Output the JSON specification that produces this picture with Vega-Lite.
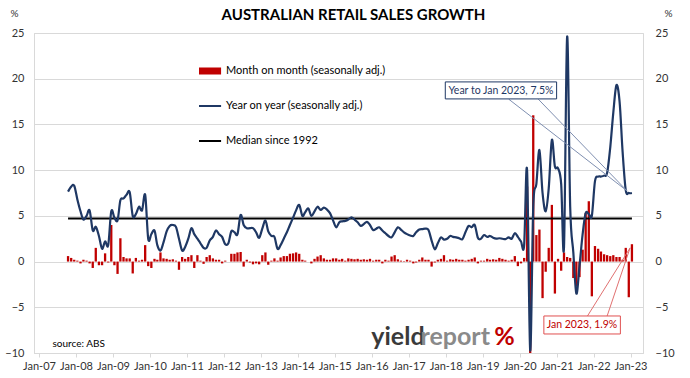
{
"$schema":"https://vega.github.io/schema/vega-lite/v6.json",
"width":609,"height":320,
"autosize":{"type":"none"},
"padding":{"left":34,"top":33,"right":47,"bottom":25},
"background":"white",
"config":{"view":{"stroke":"#d9d9d9","strokeWidth":1},"font":"Lato"},
"title":{"text":"AUSTRALIAN RETAIL SALES GROWTH","frame":"group","anchor":"middle","dx":15,"offset":-15,"fontSize":15,"font":"Lato","fontWeight":"bold","color":"#000000"},
"datasets":{
"sales":[
{"d":"2007-10-15","mom":0.6,"yoy":7.65},{"d":"2007-11-15","mom":0.4,"yoy":8.2},{"d":"2007-12-15","mom":0.2,"yoy":8.3},
{"d":"2008-01-15","mom":0.1,"yoy":6.8},{"d":"2008-02-15","mom":-0.2,"yoy":5.5},{"d":"2008-03-15","mom":0.2,"yoy":4.6},{"d":"2008-04-15","mom":0.1,"yoy":5.0},{"d":"2008-05-15","mom":-0.2,"yoy":5.6},{"d":"2008-06-15","mom":-0.7,"yoy":3.4},{"d":"2008-07-15","mom":1.5,"yoy":3.8},{"d":"2008-08-15","mom":-0.4,"yoy":2.8},{"d":"2008-09-15","mom":-0.4,"yoy":1.4},{"d":"2008-10-15","mom":0.9,"yoy":2.2},{"d":"2008-11-15","mom":-0.1,"yoy":1.8},{"d":"2008-12-15","mom":4.0,"yoy":5.5},
{"d":"2009-01-15","mom":-0.4,"yoy":4.8},{"d":"2009-02-15","mom":-1.35,"yoy":4.5},{"d":"2009-03-15","mom":2.55,"yoy":6.7},{"d":"2009-04-15","mom":0.5,"yoy":6.9},{"d":"2009-05-15","mom":0.35,"yoy":7.3},{"d":"2009-06-15","mom":0.35,"yoy":7.6},{"d":"2009-07-15","mom":-1.3,"yoy":5.0},{"d":"2009-08-15","mom":0.4,"yoy":5.2},{"d":"2009-09-15","mom":0.1,"yoy":6.0},{"d":"2009-10-15","mom":0.2,"yoy":5.6},{"d":"2009-11-15","mom":1.8,"yoy":7.3},{"d":"2009-12-15","mom":-0.5,"yoy":2.5},
{"d":"2010-01-15","mom":-0.7,"yoy":3.0},{"d":"2010-02-15","mom":0.3,"yoy":3.4},{"d":"2010-03-15","mom":0.2,"yoy":1.8},{"d":"2010-04-15","mom":1.0,"yoy":1.2},{"d":"2010-05-15","mom":0.35,"yoy":2.1},{"d":"2010-06-15","mom":0.3,"yoy":3.3},{"d":"2010-07-15","mom":0.2,"yoy":3.9},{"d":"2010-08-15","mom":0.25,"yoy":4.0},{"d":"2010-09-15","mom":0.1,"yoy":3.8},{"d":"2010-10-15","mom":-0.9,"yoy":2.5},{"d":"2010-11-15","mom":0.5,"yoy":1.2},{"d":"2010-12-15","mom":0.3,"yoy":1.6},
{"d":"2011-01-15","mom":0.5,"yoy":2.5},{"d":"2011-02-15","mom":0.7,"yoy":3.65},{"d":"2011-03-15","mom":-0.7,"yoy":3.0},{"d":"2011-04-15","mom":0.7,"yoy":2.5},{"d":"2011-05-15","mom":0.1,"yoy":2.0},{"d":"2011-06-15","mom":-0.25,"yoy":1.5},{"d":"2011-07-15","mom":0.5,"yoy":1.5},{"d":"2011-08-15","mom":0.7,"yoy":2.3},{"d":"2011-09-15","mom":0.35,"yoy":2.7},{"d":"2011-10-15","mom":0.2,"yoy":3.4},{"d":"2011-11-15","mom":0.2,"yoy":3.0},{"d":"2011-12-15","mom":-0.2,"yoy":2.7},
{"d":"2012-01-15","mom":0.1,"yoy":1.9},{"d":"2012-02-15","mom":0.0,"yoy":2.0},{"d":"2012-03-15","mom":0.85,"yoy":3.3},{"d":"2012-04-15","mom":0.85,"yoy":3.2},{"d":"2012-05-15","mom":1.0,"yoy":3.0},{"d":"2012-06-15","mom":1.05,"yoy":5.1},{"d":"2012-07-15","mom":-0.55,"yoy":4.0},{"d":"2012-08-15","mom":0.2,"yoy":3.65},{"d":"2012-09-15","mom":-0.1,"yoy":3.65},{"d":"2012-10-15","mom":-0.3,"yoy":3.65},{"d":"2012-11-15","mom":-0.2,"yoy":3.2},{"d":"2012-12-15","mom":-0.3,"yoy":2.6},
{"d":"2013-01-15","mom":0.7,"yoy":3.6},{"d":"2013-02-15","mom":1.0,"yoy":4.5},{"d":"2013-03-15","mom":-0.35,"yoy":3.3},{"d":"2013-04-15","mom":0.1,"yoy":2.8},{"d":"2013-05-15","mom":0.35,"yoy":2.7},{"d":"2013-06-15","mom":0.1,"yoy":1.4},{"d":"2013-07-15","mom":0.45,"yoy":1.8},{"d":"2013-08-15","mom":0.6,"yoy":2.5},{"d":"2013-09-15","mom":0.6,"yoy":3.2},{"d":"2013-10-15","mom":0.85,"yoy":4.0},{"d":"2013-11-15","mom":0.9,"yoy":4.8},{"d":"2013-12-15","mom":1.0,"yoy":5.6},
{"d":"2014-01-15","mom":0.85,"yoy":6.2},{"d":"2014-02-15","mom":0.2,"yoy":5.0},{"d":"2014-03-15","mom":0.1,"yoy":5.4},{"d":"2014-04-15","mom":0.0,"yoy":5.8},{"d":"2014-05-15","mom":-0.2,"yoy":5.0},{"d":"2014-06-15","mom":0.3,"yoy":5.5},{"d":"2014-07-15","mom":0.55,"yoy":6.0},{"d":"2014-08-15","mom":0.7,"yoy":5.65},{"d":"2014-09-15","mom":0.35,"yoy":5.9},{"d":"2014-10-15","mom":0.2,"yoy":5.7},{"d":"2014-11-15","mom":0.2,"yoy":5.3},{"d":"2014-12-15","mom":0.35,"yoy":4.5},
{"d":"2015-01-15","mom":0.35,"yoy":3.75},{"d":"2015-02-15","mom":0.2,"yoy":4.3},{"d":"2015-03-15","mom":0.3,"yoy":4.4},{"d":"2015-04-15","mom":0.1,"yoy":4.45},{"d":"2015-05-15","mom":0.35,"yoy":4.6},{"d":"2015-06-15","mom":0.3,"yoy":4.85},{"d":"2015-07-15","mom":0.25,"yoy":4.6},{"d":"2015-08-15","mom":0.3,"yoy":4.3},{"d":"2015-09-15","mom":0.2,"yoy":3.9},{"d":"2015-10-15","mom":0.25,"yoy":4.1},{"d":"2015-11-15","mom":0.2,"yoy":4.35},{"d":"2015-12-15","mom":0.3,"yoy":4.0},
{"d":"2016-01-15","mom":0.1,"yoy":3.45},{"d":"2016-02-15","mom":0.2,"yoy":3.6},{"d":"2016-03-15","mom":0.2,"yoy":3.75},{"d":"2016-04-15","mom":-0.2,"yoy":3.4},{"d":"2016-05-15","mom":0.2,"yoy":3.1},{"d":"2016-06-15","mom":0.1,"yoy":2.8},{"d":"2016-07-15","mom":0.55,"yoy":2.65},{"d":"2016-08-15","mom":0.7,"yoy":3.2},{"d":"2016-09-15","mom":0.25,"yoy":3.75},{"d":"2016-10-15","mom":0.1,"yoy":3.5},{"d":"2016-11-15","mom":0.05,"yoy":3.2},{"d":"2016-12-15","mom":0.2,"yoy":3.0},
{"d":"2017-01-15","mom":0.1,"yoy":2.85},{"d":"2017-02-15","mom":-0.2,"yoy":2.8},{"d":"2017-03-15","mom":-0.1,"yoy":3.2},{"d":"2017-04-15","mom":0.2,"yoy":3.5},{"d":"2017-05-15","mom":0.45,"yoy":3.55},{"d":"2017-06-15","mom":0.2,"yoy":3.6},{"d":"2017-07-15","mom":0.2,"yoy":3.45},{"d":"2017-08-15","mom":-0.55,"yoy":2.3},{"d":"2017-09-15","mom":-0.1,"yoy":1.35},{"d":"2017-10-15","mom":0.2,"yoy":2.0},{"d":"2017-11-15","mom":0.3,"yoy":2.65},{"d":"2017-12-15","mom":0.7,"yoy":2.4},
{"d":"2018-01-15","mom":0.1,"yoy":2.5},{"d":"2018-02-15","mom":0.25,"yoy":2.8},{"d":"2018-03-15","mom":0.2,"yoy":2.7},{"d":"2018-04-15","mom":0.3,"yoy":2.65},{"d":"2018-05-15","mom":0.2,"yoy":2.55},{"d":"2018-06-15","mom":0.2,"yoy":2.45},{"d":"2018-07-15","mom":0.1,"yoy":3.2},{"d":"2018-08-15","mom":0.2,"yoy":3.9},{"d":"2018-09-15","mom":0.3,"yoy":3.75},{"d":"2018-10-15","mom":0.45,"yoy":4.0},{"d":"2018-11-15","mom":-0.2,"yoy":2.6},{"d":"2018-12-15","mom":0.1,"yoy":2.5},
{"d":"2019-01-15","mom":0.1,"yoy":2.9},{"d":"2019-02-15","mom":0.3,"yoy":2.7},{"d":"2019-03-15","mom":0.2,"yoy":2.8},{"d":"2019-04-15","mom":0.25,"yoy":2.6},{"d":"2019-05-15","mom":0.2,"yoy":2.5},{"d":"2019-06-15","mom":0.4,"yoy":2.55},{"d":"2019-07-15","mom":0.3,"yoy":2.5},{"d":"2019-08-15","mom":0.2,"yoy":2.45},{"d":"2019-09-15","mom":0.1,"yoy":2.65},{"d":"2019-10-15","mom":0.2,"yoy":2.5},{"d":"2019-11-15","mom":0.6,"yoy":3.1},{"d":"2019-12-15","mom":-0.5,"yoy":2.7},
{"d":"2020-01-15","mom":-0.2,"yoy":2.2},{"d":"2020-02-15","mom":0.4,"yoy":1.8},{"d":"2020-03-15","mom":8.2,"yoy":10.0},{"d":"2020-04-15","mom":-10.0,"yoy":-9.7},{"d":"2020-05-15","mom":16.0,"yoy":6.0},{"d":"2020-06-15","mom":2.9,"yoy":8.5},{"d":"2020-07-15","mom":3.5,"yoy":12.2},{"d":"2020-08-15","mom":-4.0,"yoy":7.5},{"d":"2020-09-15","mom":-1.1,"yoy":5.5},{"d":"2020-10-15","mom":1.5,"yoy":8.0},{"d":"2020-11-15","mom":6.2,"yoy":13.3},{"d":"2020-12-15","mom":-3.5,"yoy":10.4},
{"d":"2021-01-15","mom":0.3,"yoy":10.2},{"d":"2021-02-15","mom":-1.0,"yoy":8.5},{"d":"2021-03-15","mom":1.0,"yoy":1.6},{"d":"2021-04-15","mom":0.5,"yoy":24.6},{"d":"2021-05-15","mom":0.4,"yoy":6.0},{"d":"2021-06-15","mom":-1.8,"yoy":1.0},{"d":"2021-07-15","mom":-2.7,"yoy":-3.5},{"d":"2021-08-15","mom":-1.7,"yoy":-0.5},{"d":"2021-09-15","mom":1.3,"yoy":3.0},{"d":"2021-10-15","mom":5.3,"yoy":5.3},{"d":"2021-11-15","mom":6.6,"yoy":5.2},{"d":"2021-12-15","mom":-3.8,"yoy":5.0},
{"d":"2022-01-15","mom":1.7,"yoy":8.8},{"d":"2022-02-15","mom":1.4,"yoy":9.3},{"d":"2022-03-15","mom":1.1,"yoy":9.3},{"d":"2022-04-15","mom":0.8,"yoy":9.4},{"d":"2022-05-15","mom":0.7,"yoy":9.7},{"d":"2022-06-15","mom":0.6,"yoy":12.5},{"d":"2022-07-15","mom":0.7,"yoy":16.3},{"d":"2022-08-15","mom":0.5,"yoy":19.3},{"d":"2022-09-15","mom":0.5,"yoy":17.5},{"d":"2022-10-15","mom":0.2,"yoy":12.0},{"d":"2022-11-15","mom":1.5,"yoy":7.8},{"d":"2022-12-15","mom":-3.9,"yoy":7.5},
{"d":"2023-01-15","mom":1.9,"yoy":7.5}
],
"median":[{"d":"2007-10-15","d2":"2023-01-15","v":4.7}],
"yoyBox":[{"d":"2017-12-28","d2":"2021-01-01","v":19.65,"v2":17.79}],
"yoyText":[{"d":"2019-07-01","v":18.7,"label":"Year to Jan 2023, 7.5%"}],
"yoyLeaders":[{"d":"2019-09-16","v":17.76,"d2":"2022-11-29","v2":7.72},{"d":"2020-07-04","v":17.76,"d2":"2022-11-29","v2":7.72}],
"momBox":[{"d":"2020-08-28","d2":"2022-09-23","v":-5.95,"v2":-7.92}],
"momText":[{"d":"2021-09-09","v":-6.94,"label":"Jan 2023, 1.9%"}],
"momLeaders":[{"d":"2021-11-02","v":-5.95,"d2":"2022-12-28","v2":1.5},{"d":"2022-05-15","v":-5.95,"d2":"2022-12-28","v2":1.5}],
"source":[{"d":"2007-05-14","v":-9.0,"label":"source: ABS"}],
"logoYield":[{"d":"2015-12-28","v":-9.12,"label":"yield"}],
"logoReport":[{"d":"2017-04-27","v":-9.12,"label":"report"}],
"logoPct":[{"d":"2019-04-25","v":-9.12,"label":"%"}]
},
"encoding":{
"x":{"field":"d","type":"temporal","title":null,
 "scale":{"domain":[{"year":2007,"month":1,"date":1},{"year":2023,"month":3,"date":16}]},
 "axis":{"format":"%b-%y","tickCount":{"interval":"year","step":1},"labelFlush":false,"labelOverlap":false,"labelFont":"Lato","labelFontSize":11,"labelColor":"#333333","tickColor":"#d9d9d9","tickSize":4,"domainColor":"#d9d9d9","grid":false,"labelPadding":3}},
"y":{"field":"v","type":"quantitative","scale":{"domain":[-10,25]},"axis":null}
},
"resolve":{"scale":{"y":"independent"}},
"layer":[
{"data":{"name":"sales"},
 "mark":{"type":"bar","size":2.3},
 "encoding":{
  "y":{"field":"mom","type":"quantitative","scale":{"domain":[-10,25]},"axis":null},
  "color":{"datum":"Month on month (seasonally adj.)",
   "scale":{"domain":["Month on month (seasonally adj.)","Year on year (seasonally adj.)","Median since 1992"],"range":["#C00000","#1F3864","#000000"]},
   "legend":{"orient":"none","legendX":165,"legendY":26,"title":null,"padding":0,"symbolType":"stroke","symbolSize":1100,"symbolStrokeWidth":2,"labelFont":"Lato","labelFontSize":11,"labelColor":"#000000","labelOffset":16,"labelLimit":400,"clipHeight":24,"rowPadding":11,
    "encode":{"symbols":{"update":{"stroke":{"scale":"color","field":"value"},"strokeWidth":{"signal":"datum.value === 'Month on month (seasonally adj.)' ? 7 : 2"}}}}}}
 }},
{"data":{"name":"median"},
 "mark":{"type":"rule","strokeWidth":2},
 "encoding":{
  "x2":{"field":"d2"},
  "y":{"field":"v","type":"quantitative","scale":{"domain":[-10,25]},
   "axis":{"orient":"right","values":[-10,-5,0,5,10,15,20,25],"grid":false,"domain":false,"ticks":false,"labelPadding":12,"labelFont":"Lato","labelFontSize":11,"labelColor":"#333333","title":"%","titleAngle":0,"titleX":25,"titleY":-20,"titleAlign":"center","titleBaseline":"middle","titleFont":"Lato","titleFontSize":10,"titleFontWeight":"normal","titleColor":"#333333"}},
  "color":{"datum":"Median since 1992"}
 }},
{"data":{"name":"sales"},
 "mark":{"type":"line","interpolate":"cardinal","strokeWidth":2.2},
 "encoding":{
  "y":{"field":"yoy","type":"quantitative","scale":{"domain":[-10,25]},
   "axis":{"orient":"left","values":[-10,-5,0,5,10,15,20,25],"grid":true,"gridColor":"#d9d9d9","domain":true,"domainColor":"#d9d9d9","ticks":false,"labelPadding":10,"labelFont":"Lato","labelFontSize":11,"labelColor":"#333333","title":"%","titleAngle":0,"titleX":-20,"titleY":-20,"titleAlign":"center","titleBaseline":"middle","titleFont":"Lato","titleFontSize":10,"titleFontWeight":"normal","titleColor":"#333333"}},
  "color":{"datum":"Year on year (seasonally adj.)"}
 }},
{"data":{"name":"yoyLeaders"},"mark":{"type":"rule","color":"#7F8FB0","strokeWidth":1},"encoding":{"x2":{"field":"d2"},"y2":{"field":"v2"}}},
{"data":{"name":"momLeaders"},"mark":{"type":"rule","color":"#E07070","strokeWidth":1},"encoding":{"x2":{"field":"d2"},"y2":{"field":"v2"}}},
{"data":{"name":"yoyBox"},"mark":{"type":"rect","fill":"white","stroke":"#1F3864","strokeWidth":1},"encoding":{"x2":{"field":"d2"},"y2":{"field":"v2"}}},
{"data":{"name":"yoyText"},"mark":{"type":"text","font":"Lato","fontSize":10.5,"color":"#1F3864","align":"center","baseline":"middle"},"encoding":{"text":{"field":"label"}}},
{"data":{"name":"momBox"},"mark":{"type":"rect","fill":"white","stroke":"#E05050","strokeWidth":1},"encoding":{"x2":{"field":"d2"},"y2":{"field":"v2"}}},
{"data":{"name":"momText"},"mark":{"type":"text","font":"Lato","fontSize":10.5,"color":"#C00000","align":"center","baseline":"middle"},"encoding":{"text":{"field":"label"}}},
{"data":{"name":"source"},"mark":{"type":"text","font":"Lato","fontSize":10,"color":"#000000","align":"left","baseline":"middle"},"encoding":{"text":{"field":"label"}}},
{"data":{"name":"logoYield"},"mark":{"type":"text","font":"Lato","fontSize":25,"fontWeight":"bold","color":"#3a3a3a","align":"left","baseline":"alphabetic"},"encoding":{"text":{"field":"label"}}},
{"data":{"name":"logoReport"},"mark":{"type":"text","font":"Lato","fontSize":25,"fontWeight":"bold","color":"#8a8a8a","align":"left","baseline":"alphabetic"},"encoding":{"text":{"field":"label"}}},
{"data":{"name":"logoPct"},"mark":{"type":"text","font":"Lato","fontSize":25,"fontWeight":"bold","color":"#C00000","align":"left","baseline":"alphabetic"},"encoding":{"text":{"field":"label"}}}
]
}
